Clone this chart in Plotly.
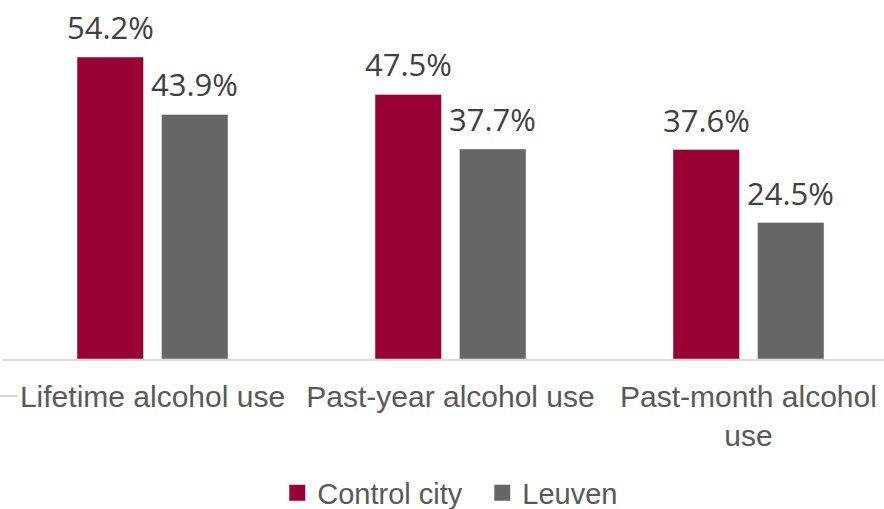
import plotly.graph_objects as go

categories = ["Lifetime alcohol use", "Past-year alcohol use", "Past-month alcohol use"]
tick_text = ["Lifetime alcohol use", "Past-year alcohol use", "Past-month alcohol<br>use"]
control_city = [54.2, 47.5, 37.6]
leuven = [43.9, 37.7, 24.5]

RED = "#990033"
GRAY = "#666666"
LABEL_FONT = dict(family="Open Sans", size=31, color="#404040")
AXIS_FONT = dict(family="Liberation Sans", size=30, color="#595959")
LEGEND_FONT = dict(family="Liberation Sans", size=29, color="#595959")

fig = go.Figure()
fig.add_trace(go.Bar(name="Control city", x=categories, y=control_city,
                     marker_color=RED, showlegend=False))
fig.add_trace(go.Bar(name="Leuven", x=categories, y=leuven,
                     marker_color=GRAY, showlegend=False))

# square legend swatches
for name, color in [("Control city", RED), ("Leuven", GRAY)]:
    fig.add_trace(go.Scatter(name=name, x=[None], y=[None], mode="markers",
                             marker=dict(symbol="square", size=16, color=color)))

# value labels above each bar
for series, shift in [(control_city, -42.25), (leuven, 42.25)]:
    for cat, val in zip(categories, series):
        fig.add_annotation(x=cat, y=val, text=f"{val:.1f}%", showarrow=False,
                           xshift=shift, yshift=7, yanchor="bottom",
                           font=LABEL_FONT)

fig.add_shape(type="line", xref="paper", yref="paper",
              x0=-3 / 881, x1=15 / 881, y0=(359 - 396) / 359, y1=(359 - 396) / 359,
              line=dict(color="#a6a6a6", width=1))

fig.update_layout(
    width=884, height=509,
    margin=dict(l=3, r=0, t=0, b=150, autoexpand=False),
    paper_bgcolor="white", plot_bgcolor="white",
    barmode="group", bargap=0.433, bargroupgap=0.213,
    xaxis=dict(type="category", range=[-0.5017, 2.4547], automargin=False,
               tickvals=categories, ticktext=tick_text,
               tickfont=AXIS_FONT, showline=True, linecolor="#d9d9d9",
               linewidth=1.5, showgrid=False, ticks="", ticklabelstandoff=10),
    yaxis=dict(range=[0, 64.45], visible=False, showgrid=False),
    legend=dict(orientation="h", x=0.544, xanchor="center", y=-0.373,
                yanchor="middle", font=LEGEND_FONT, itemwidth=30,
                entrywidth=160, bgcolor="rgba(0,0,0,0)"),
    showlegend=True,
)

fig.write_html("out.html")
